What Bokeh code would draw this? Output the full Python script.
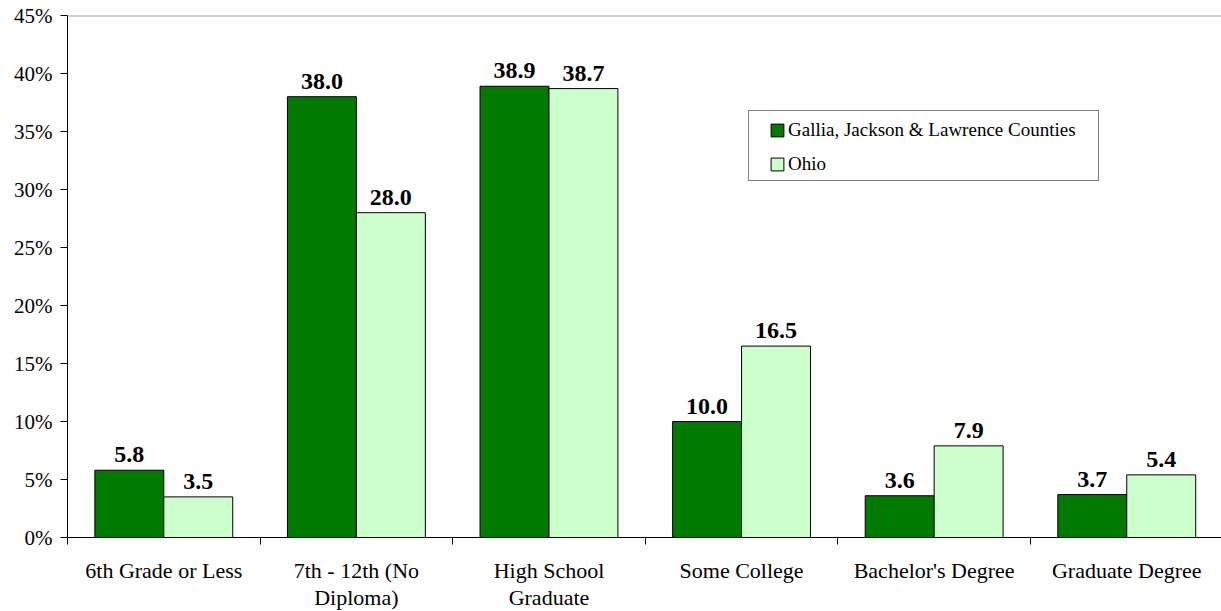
from bokeh.plotting import figure
from bokeh.embed import file_html
from bokeh.resources import INLINE
from bokeh.core.properties import value
from bokeh.models import (Range1d, FixedTicker, PrintfTickFormatter, ColumnDataSource,
                          LabelSet, Legend, LegendItem, Span)

# ---- data ----
categories = ["6th Grade or Less", "7th - 12th (No Diploma)", "High School Graduate",
              "Some College", "Bachelor's Degree", "Graduate Degree"]
tick_labels = ["6th Grade or Less", "7th - 12th (No\nDiploma)", "High School\nGraduate",
               "Some College", "Bachelor's Degree", "Graduate Degree"]
region_vals = [5.8, 38.0, 38.9, 10.0, 3.6, 3.7]
ohio_vals = [3.5, 28.0, 38.7, 16.5, 7.9, 5.4]
series_names = ["Gallia, Jackson & Lawrence Counties", "Ohio"]
y_ticks = [0, 5, 10, 15, 20, 25, 30, 35, 40, 45]

DARK = "#007A00"
LIGHT = "#CCFFCC"
FONT = "Liberation Serif"

n = len(categories)
centers = [i + 0.5 for i in range(n)]
bw = 0.358
off = 0.179

src_r = ColumnDataSource(dict(x=[c - off for c in centers], top=region_vals,
                              lab=[f"{v:.1f}" for v in region_vals]))
src_o = ColumnDataSource(dict(x=[c + off for c in centers], top=ohio_vals,
                              lab=[f"{v:.1f}" for v in ohio_vals]))

p = figure(frame_width=1154, frame_height=522, output_backend="svg", toolbar_location=None,
           x_range=Range1d(0, 5.992), y_range=Range1d(0, 45),
           min_border_left=67, min_border_right=0, min_border_top=15, min_border_bottom=74)
p.outline_line_color = None
p.grid.visible = False
p.background_fill_color = "white"
p.border_fill_color = "white"

r_reg = p.vbar(x="x", top="top", width=bw, bottom=0, source=src_r, fill_color=DARK,
               line_color="black", line_width=1)
r_ohio = p.vbar(x="x", top="top", width=bw, bottom=0, source=src_o, fill_color=LIGHT,
                line_color="black", line_width=1)

for s in (src_r, src_o):
    p.add_layout(LabelSet(x="x", y="top", text="lab", source=s, text_align="center",
                          text_baseline="alphabetic", y_offset=8, text_font=value(FONT),
                          text_font_size="24px", text_font_style="bold", text_color="black"))

p.add_layout(Span(location=45, dimension="width", line_color="#A0A0A0", line_width=2))

# y axis
ya = p.yaxis[0]
ya.ticker = FixedTicker(ticks=y_ticks, minor_ticks=[])
ya.formatter = PrintfTickFormatter(format="%d%%")
ya.major_tick_out = 7
ya.major_tick_in = 0
ya.minor_tick_out = 0
ya.minor_tick_in = 0
ya.major_label_standoff = 8
ya.major_label_text_font = FONT
ya.major_label_text_font_size = "21px"
ya.major_label_text_color = "black"
ya.axis_line_color = "black"
ya.major_tick_line_color = "black"

# x axis
xa = p.xaxis[0]
xa.ticker = FixedTicker(ticks=centers, minor_ticks=list(range(n + 1)))
xa.major_label_overrides = {c: t for c, t in zip(centers, tick_labels)}
xa.major_tick_out = 0
xa.major_tick_in = 0
xa.minor_tick_out = 7
xa.minor_tick_in = 0
xa.minor_tick_line_color = "black"
xa.major_label_standoff = 13
xa.major_label_text_font = FONT
xa.major_label_text_font_size = "22px"
xa.major_label_text_line_height = 1.1
xa.major_label_text_color = "black"
xa.major_label_text_align = "center"
xa.axis_line_color = "black"

# legend frame (box only)
frame_r = p.scatter(x=[float("nan")], y=[float("nan")], marker="square",
                    fill_alpha=0, line_alpha=0)
legend_box = Legend(items=[LegendItem(label=" ", renderers=[frame_r])],
                    location=(681, 356), margin=0, padding=0, spacing=0,
                    glyph_width=1, glyph_height=69, label_height=69, label_width=348,
                    label_standoff=0, border_line_color="black", border_line_width=1,
                    background_fill_color="white", background_fill_alpha=1,
                    label_text_font_size="1px")
p.add_layout(legend_box)

# legend items
legend = Legend(items=[LegendItem(label=series_names[0], renderers=[r_reg]),
                       LegendItem(label=series_names[1], renderers=[r_ohio])],
                location=(702, 361), orientation="vertical", margin=0, padding=0,
                spacing=10, glyph_width=16, glyph_height=16, label_height=24,
                label_standoff=3,
                label_text_font=FONT, label_text_font_size="19px", label_text_color="black",
                border_line_color=None, background_fill_alpha=0)
p.add_layout(legend)

html = file_html(p, INLINE)
html = html.replace("<head>", "<head><style>html,body{margin:0;padding:0;overflow:hidden}</style>", 1)
open("out.html", "w").write(html)
